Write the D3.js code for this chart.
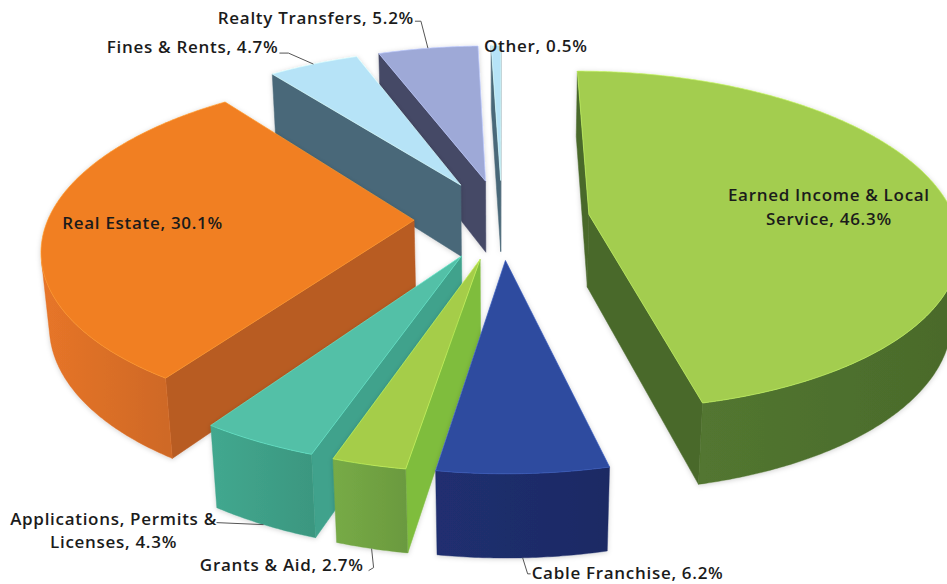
<!DOCTYPE html>
<html>
<head>
<meta charset="utf-8">
<script src="https://cdn.jsdelivr.net/npm/d3@7"></script>
<style>
  body { margin: 0; background: #fff; }
  svg { display: block; }
</style>
</head>
<body>
<script>
const width = 947
const height = 584

// datos: fuentes de ingreso (%), en el orden del grafico (horario desde las 12)
const categories = ['Earned Income & Local Service', 'Cable Franchise', 'Grants & Aid',
  'Applications, Permits & Licenses', 'Real Estate', 'Fines & Rents', 'Realty Transfers', 'Other']
const shares = [46.3, 6.2, 2.7, 4.3, 30.1, 4.7, 5.2, 0.5]
// palabras en la primera linea cuando la etiqueta se parte en dos
const wrapWords = [4, 0, 0, 3, 0, 0, 0, 0]

// colores: cara superior, pared exterior, cortes radiales
const topColors = ['#a3cd4f', '#2e4b9f', '#a5cd49', '#52c0a7', '#f17f22', '#b6e3f7', '#9ea9d7', '#b6e3f7']
const wallColors = ['#4f712e', '#1f2d6b', '#72a443', '#3fa189', '#dd7027', '#4a6879', '#444866', '#4a6879']
const cutColors = ['#4a692c', '#24337a', '#7fbd3e', '#3fa28c', '#b85b22', '#4a6879', '#444866', '#4a6879']

// camara / perspectiva (radio del pie = 1)
const cx = 502, cy = 219
const dist = 5.82, focal = 2130
const sinP = 0.455, cosP = Math.sqrt(1 - sinP * sinP)
const depth = 0.228      // alto del cilindro
const explode = 0.24     // separacion de porciones
const cam = [0, dist * sinP, dist * cosP]

const x = d3.scaleLinear().domain([0, 1]).range([cx, cx + focal])
const y = d3.scaleLinear().domain([0, 1]).range([cy, cy - focal])

function project([X, Y, Z]) {
  const w = dist - Z * cosP - Y * sinP
  const u = Y * cosP - Z * sinP
  return [x(X / w), y(u / w)]
}
function facing(p, n) {
  return (cam[0] - p[0]) * n[0] + (cam[1] - p[1]) * n[1] + (cam[2] - p[2]) * n[2] > 0
}

const svg = d3.select('body').append('svg').attr('width', width).attr('height', height)
const defs = svg.append('defs')
defs.append('filter').attr('id', 'halo')
  .attr('x', '-10%').attr('y', '-10%').attr('width', '120%').attr('height', '120%')
  .append('feDropShadow')
  .attr('dx', 0).attr('dy', 1).attr('stdDeviation', 2.5)
  .attr('flood-color', '#000').attr('flood-opacity', 0.18)
const chart = svg.append('g')
const path = pts => d3.line()(pts) + 'Z'

const pie = d3.pie().sort(null).value(d => d)
const slices = pie(shares).map((a, i) => {
  const mid = (a.startAngle + a.endAngle) / 2
  return { ...a, i, mid, ox: explode * Math.sin(mid), oz: -explode * Math.cos(mid) }
})
const world = (s, t, r, yy) => [s.ox + r * Math.sin(t), yy, s.oz - r * Math.cos(t)]
const arcTs = (a0, a1) => {
  const n = Math.max(2, Math.ceil((a1 - a0) / (Math.PI / 360)))
  return d3.range(n + 1).map(k => a0 + (a1 - a0) * k / n)
}

// de atras hacia adelante
const order = slices.slice().sort((a, b) => {
  const pa = world(a, a.mid, 0.5, 0), pb = world(b, b.mid, 0.5, 0)
  return pa[2] - pb[2]
})

order.forEach(s => {
  const g = chart.append('g').attr('class', 'slice').attr('filter', 'url(#halo)')
  const ts = arcTs(s.startAngle, s.endAngle)

  // cortes radiales
  const cuts = [
    { t: s.startAngle, n: [-Math.cos(s.startAngle), 0, -Math.sin(s.startAngle)] },
    { t: s.endAngle, n: [Math.cos(s.endAngle), 0, Math.sin(s.endAngle)] }
  ]
  cuts.forEach(c => {
    const c0 = world(s, c.t, 0, 0)
    if (!facing(c0, c.n)) return
    const pts = [c0, world(s, c.t, 1, 0), world(s, c.t, 1, -depth), world(s, c.t, 0, -depth)].map(project)
    g.append('path').attr('d', path(pts))
      .attr('fill', cutColors[s.i])
      .attr('stroke', cutColors[s.i]).attr('stroke-width', 0.5)
  })

  // pared exterior, solo lo visible
  const vis = ts.map(t => facing(world(s, t, 1, 0), [Math.sin(t), 0, -Math.cos(t)]))
  const runs = []
  let cur = null
  ts.forEach((t, k) => {
    if (vis[k]) { if (!cur) { cur = []; runs.push(cur) } cur.push(t) } else cur = null
  })
  runs.forEach((run, k) => {
    if (run.length < 2) return
    const top = run.map(t => project(world(s, t, 1, 0)))
    const bot = run.map(t => project(world(s, t, 1, -depth))).reverse()
    const xs = top.map(p => p[0])
    const id = `wall${s.i}_${k}`
    const grad = defs.append('linearGradient').attr('id', id)
      .attr('gradientUnits', 'userSpaceOnUse')
      .attr('x1', d3.min(xs)).attr('x2', d3.max(xs)).attr('y1', 0).attr('y2', 0)
    grad.append('stop').attr('offset', 0).attr('stop-color', d3.color(wallColors[s.i]).brighter(0.12))
    grad.append('stop').attr('offset', 1).attr('stop-color', d3.color(wallColors[s.i]).darker(0.18))
    g.append('path').attr('d', path(top.concat(bot)))
      .attr('fill', `url(#${id})`)
      .attr('stroke', wallColors[s.i]).attr('stroke-width', 0.4)
  })

  // cara superior
  const topPts = [project(world(s, 0, 0, 0))].concat(ts.map(t => project(world(s, t, 1, 0))))
  g.append('path').attr('d', path(topPts))
    .attr('fill', topColors[s.i])
    .attr('stroke', d3.color(topColors[s.i]).brighter(0.5))
    .attr('stroke-width', 0.7)
})

// etiquetas: desplazamientos respecto al punto de anclaje en la porcion
const labelLayout = [
  { inside: true, dx: 26, dy: 4, align: 'middle' },
  { leader: [[0, 0], [5, 16], [8, 16]], dx: 9, dy: 15, align: 'start' },
  { leader: [[0, 0], [2, 19], [-3, 22]], dx: -8, dy: 16, align: 'end' },
  { leader: [[0, 0], [-47, -2]], dx: -150, dy: 6, align: 'middle' },
  { inside: true, dx: -51, dy: 0, align: 'middle' },
  { leader: [[0, 0], [-25, -11], [-34, -11]], dx: -35, dy: -17, align: 'end' },
  { leader: [[0, 0], [-7, -27], [-13, -27]], dx: -14, dy: -30, align: 'end' },
  { dx: -12, dy: 1, align: 'start' }
]

const labels = svg.append('g')
  .attr('font-family', "'Open Sans', sans-serif")
  .attr('font-weight', 600)
  .attr('font-size', '17px')
  .attr('letter-spacing', '0.7px')
  .attr('fill', '#1b1b1b')

slices.forEach(s => {
  const L = labelLayout[s.i]
  let anchor
  if (L.inside) anchor = project(world(s, s.mid, 0.6, 0))
  else if (Math.cos(s.mid) < 0) anchor = project(world(s, s.mid, 1, -depth))
  else anchor = project(world(s, s.mid, 1, 0))

  if (L.leader) {
    labels.append('path')
      .attr('d', d3.line()(L.leader.map(([a, b]) => [anchor[0] + a, anchor[1] + b])))
      .attr('fill', 'none').attr('stroke', '#555').attr('stroke-width', 1)
  }

  const text = `${categories[s.i]}, ${shares[s.i]}%`
  const words = text.split(' ')
  const lines = wrapWords[s.i] ? [words.slice(0, wrapWords[s.i]).join(' '), words.slice(wrapWords[s.i]).join(' ')] : [text]
  const lh = 23.5
  const t = labels.append('text')
    .attr('text-anchor', L.align)
    .attr('y', anchor[1] + L.dy - (lines.length - 1) * lh / 2)
  lines.forEach((ln, k) => {
    t.append('tspan').attr('x', anchor[0] + L.dx).attr('dy', k === 0 ? '0.35em' : lh).text(ln)
  })
})
</script>
</body>
</html>
